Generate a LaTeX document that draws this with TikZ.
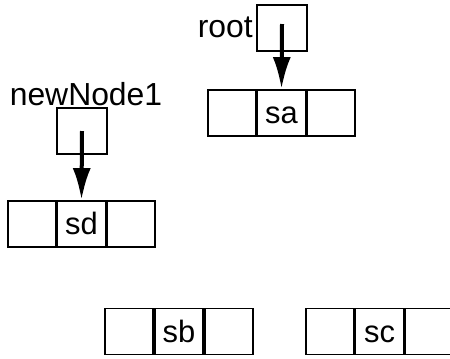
\documentclass[tikz,border=0pt]{standalone}
\usepackage{fontspec}
\setmainfont{Liberation Sans}
\usetikzlibrary{positioning,arrows.meta}
\begin{document}
\begin{tikzpicture}[x=1bp,y=-1bp]
\tikzset{cell/.style={draw,line width=1.8bp,minimum width=48bp,minimum height=46bp,inner sep=0pt,text height=21bp,text depth=0pt,font=\fontsize{31}{36}\selectfont},
ptr/.style={draw,line width=1.8bp,minimum width=50bp,minimum height=46bp,inner sep=0pt},
name label/.style={inner sep=0pt,font=\fontsize{32}{36}\selectfont},
link/.style={line width=4bp,-{Latex[length=32bp,width=18bp]}}}
\useasboundingbox (0,0) rectangle (450,358);
% pointers
\node [ptr] (root) at (282,28) {};
\node [name label,anchor=base east] (rootname) at (253,37) {root};
\node [ptr] (newNode1) at (82,131) {};
\node [name label,anchor=base] (newNode1name) at (86,105) {newNode1};
% list nodes
\node [cell] (sa) at (281.5,113) {sa};
\node [cell,left=0pt of sa] (saL) {};
\node [cell,right=0pt of sa] (saR) {};
\node [cell] (sd) at (81.5,224) {sd};
\node [cell,left=0pt of sd] (sdL) {};
\node [cell,right=0pt of sd] (sdR) {};
\node [cell] (sb) at (179,331.5) {sb};
\node [cell,left=0pt of sb] (sbL) {};
\node [cell,right=0pt of sb] (sbR) {};
\node [cell] (sc) at (379.5,331.5) {sc};
\node [cell,left=0pt of sc] (scL) {};
\node [cell,right=0pt of sc] (scR) {};
% links
\draw [link] ([yshift=4bp]root.center) -- (sa.north);
\draw [link] (newNode1.center) -- (sd.north);
\end{tikzpicture}
\end{document}
